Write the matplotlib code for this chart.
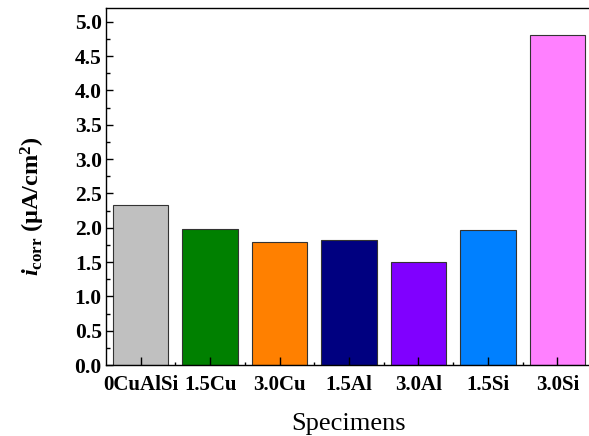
import matplotlib
matplotlib.use("Agg")
import matplotlib.pyplot as plt
from matplotlib.ticker import MultipleLocator, FixedLocator

specimens = ["0CuAlSi", "1.5Cu", "3.0Cu", "1.5Al", "3.0Al", "1.5Si", "3.0Si"]
icorr = [2.33, 1.98, 1.79, 1.82, 1.50, 1.96, 4.81]
colors = ["#c0c0c0", "#008000", "#ff8000", "#000080", "#8000ff", "#0080ff", "#ff80ff"]

plt.rcParams["font.family"] = ["Liberation Serif", "DejaVu Serif"]
plt.rcParams["mathtext.fontset"] = "custom"
plt.rcParams["mathtext.rm"] = "Liberation Serif:bold"
plt.rcParams["mathtext.it"] = "Liberation Serif:bold:italic"
plt.rcParams["mathtext.bf"] = "Liberation Serif:bold"

fig = plt.figure(figsize=(5.89, 4.36), dpi=100)
ax = fig.add_axes([106 / 589, 1 - 365 / 436, (592 - 106) / 589, (365 - 8) / 436])

x = list(range(len(specimens)))
ax.bar(x, icorr, width=0.8, color=colors, edgecolor="#333333", linewidth=0.8)

ax.set_xlim(-0.5, len(specimens) - 0.5)
ax.set_ylim(0, 5.2)
ax.yaxis.set_major_locator(MultipleLocator(0.5))
ax.yaxis.set_minor_locator(MultipleLocator(0.25))
ax.set_xticks(x)
ax.set_xticklabels(specimens, fontweight="bold", fontsize=15)
ax.xaxis.set_minor_locator(FixedLocator([i + 0.5 for i in x[:-1]]))
ax.set_yticklabels([f"{v:.1f}" for v in ax.get_yticks()], fontweight="bold", fontsize=15.5)

ax.tick_params(axis="both", which="major", direction="in", length=5, width=1,
               top=False, right=False, pad=3)
ax.tick_params(axis="both", which="minor", direction="in", length=3, width=1,
               top=False, right=False)
ax.tick_params(axis="x", which="minor", length=2)
ax.tick_params(axis="x", which="major", length=6, pad=7)

for s in ax.spines.values():
    s.set_linewidth(1.0)

ax.set_ylabel(r"$i_{\rm corr}$ (μA/cm$^{\rm 2}$)", fontsize=17.5, fontweight="bold")
ax.yaxis.set_label_coords(-0.122, 0.445)
ax.set_xlabel("Specimens", fontsize=19, labelpad=13)

fig.savefig("out.png", dpi=100)
